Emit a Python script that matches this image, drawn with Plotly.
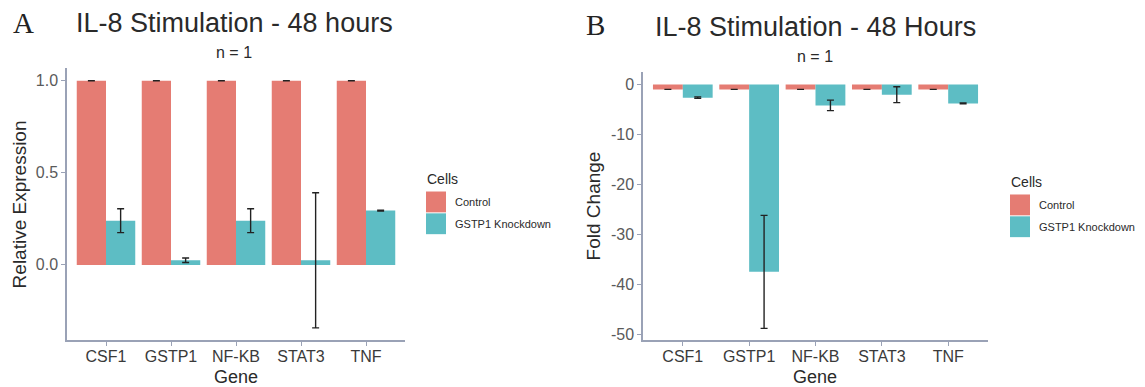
import plotly.graph_objects as go

genes = ["CSF1", "GSTP1", "NF-KB", "STAT3", "TNF"]
groups = ["Control", "GSTP1 Knockdown"]

# Panel A: relative expression
rel_control = [1.0, 1.0, 1.0, 1.0, 1.0]
rel_control_err = [0.0, 0.0, 0.0, 0.0, 0.0]
rel_kd = [0.24, 0.025, 0.24, 0.025, 0.295]
rel_kd_err = [0.065, 0.012, 0.065, 0.367, 0.002]
rel_ticks = [0.0, 0.5, 1.0]
rel_ticklabels = ["0.0", "0.5", "1.0"]

# Panel B: fold change
fc_control = [-1.0, -1.0, -1.0, -1.0, -1.0]
fc_control_err = [0.0, 0.0, 0.0, 0.0, 0.0]
fc_kd = [-2.65, -37.5, -4.2, -2.05, -3.8]
fc_kd_err = [0.15, 11.3, 1.05, 1.6, 0.08]
fc_ticks = [0, -10, -20, -30, -40, -50]
fc_ticklabels = ["0", "-10", "-20", "-30", "-40", "-50"]

RED = "#E57C73"
TEAL = "#5DBDC4"
W, H = 1145, 387

def px_x(x):
    return x / W

def px_y(y):
    return 1 - y / H

fig = go.Figure()

def add_bars(xa, ya, ctrl, ctrl_err, kd, kd_err):
    for name, vals, errs, col in [(groups[0], ctrl, ctrl_err, RED),
                                  (groups[1], kd, kd_err, TEAL)]:
        fig.add_trace(go.Bar(
            x=genes, y=vals, name=name, marker=dict(color=col, line=dict(width=0)),
            error_y=dict(type="data", array=errs, visible=True, color="#222222",
                         thickness=1.4, width=3.5),
            xaxis=xa, yaxis=ya, showlegend=False, offsetgroup=name,
        ))

add_bars("x", "y", rel_control, rel_control_err, rel_kd, rel_kd_err)
add_bars("x2", "y2", fc_control, fc_control_err, fc_kd, fc_kd_err)

axis_line = "#9AA2B6"
tickfont = dict(family="Liberation Sans, Arial, sans-serif", size=16, color="#5a5a5a")
xtickfont = dict(family="Liberation Sans, Arial, sans-serif", size=16, color="#3a3a3a")

common_x = dict(showgrid=False, zeroline=False, showline=True, linecolor=axis_line,
                linewidth=1.5, ticks="outside", ticklen=4, tickcolor=axis_line,
                tickwidth=1.2, tickfont=xtickfont, range=[-0.6, 4.6], fixedrange=True,
                ticklabelstandoff=-3)
common_y = dict(showgrid=False, zeroline=False, showline=True, linecolor=axis_line,
                linewidth=1.5, ticks="outside", ticklen=4, tickcolor=axis_line,
                tickwidth=1.2, tickfont=tickfont, fixedrange=True)

fig.update_layout(
    width=W, height=H,
    margin=dict(l=0, r=0, t=0, b=0),
    paper_bgcolor="white", plot_bgcolor="white",
    barmode="group", bargap=0.1, bargroupgap=0.0,
    showlegend=False,
    xaxis=dict(domain=[px_x(67), px_x(405)], anchor="y", **common_x),
    yaxis=dict(domain=[px_y(343), px_y(69)], anchor="x", range=[-0.41, 1.067],
               tickvals=rel_ticks, ticktext=rel_ticklabels, **common_y),
    xaxis2=dict(domain=[px_x(643), px_x(988)], anchor="y2", **common_x),
    yaxis2=dict(domain=[px_y(343), px_y(73)], anchor="x2", range=[-51.2, 2.4],
                tickvals=fc_ticks, ticktext=fc_ticklabels, **common_y),
)

ann = []
shapes = []
sans = "Liberation Sans, Arial, sans-serif"
serif = "Liberation Serif, Times New Roman, serif"

def text(x, y, s, size, color="#222222", family=sans, xanchor="center", angle=0):
    ann.append(dict(x=px_x(x), y=px_y(y), xref="paper", yref="paper", text=s,
                    showarrow=False, xanchor=xanchor, yanchor="middle",
                    font=dict(family=family, size=size, color=color), textangle=angle))

# Panel A texts
text(23, 23, "A", 29, "#222222", serif)
text(234, 23, "IL-8 Stimulation - 48 hours", 27, "#2a2a2a")
text(234, 53, "n = 1", 16, "#2a2a2a")
text(19, 206, "Relative Expression", 19, "#2a2a2a", angle=-90)
text(236, 380, "Gene", 18, "#2a2a2a")

# Panel B texts
text(596, 25, "B", 29, "#222222", serif)
text(815, 27, "IL-8 Stimulation - 48 Hours", 27, "#2a2a2a")
text(815, 57, "n = 1", 16, "#2a2a2a")
text(593, 208, "Fold Change", 19, "#2a2a2a", angle=-90)
text(815, 380, "Gene", 18, "#2a2a2a")

# Manual legends (ggplot-style keys)
def legend(x0, ytitle, ytop):
    text(x0, ytitle, "Cells", 14, "#2a2a2a", xanchor="left")
    for i, (g, col) in enumerate(zip(groups, [RED, TEAL])):
        y0 = ytop + i * 22
        shapes.append(dict(type="rect", xref="paper", yref="paper",
                           x0=px_x(x0 + 1), x1=px_x(x0 + 21), y0=px_y(y0 + 21), y1=px_y(y0),
                           fillcolor=col, line=dict(width=0)))
        text(x0 + 28, y0 + 11, g, 11, "#2a2a2a", xanchor="left")

legend(425, 180, 193)
legend(1009, 183, 196)

fig.update_layout(annotations=ann, shapes=shapes)
fig.write_html("out.html", config={"displayModeBar": False},
               post_script="document.body.style.margin='0';document.body.style.overflow='hidden';")
